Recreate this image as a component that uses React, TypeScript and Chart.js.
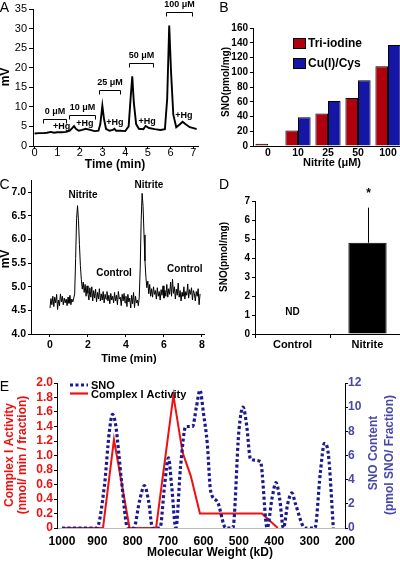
import React, { useEffect, useRef } from "react";
import { Chart, registerables } from "chart.js";
Chart.register(...registerables);

const FF = "'Liberation Sans', Arial, Helvetica, sans-serif";

// ---------- Panel A: chemiluminescence trace ----------
const aTime = [0, 0.2, 0.4, 0.55, 0.72, 0.85, 1.0, 1.2, 1.4, 1.55, 1.65, 1.74, 1.82, 1.95, 2.1, 2.26, 2.45, 2.65, 2.82, 2.9, 2.99, 3.06, 3.15, 3.3, 3.45, 3.52, 3.6, 3.8, 4.0, 4.15, 4.24, 4.31, 4.38, 4.48, 4.6, 4.8, 4.9, 5.05, 5.3, 5.55, 5.75, 5.85, 5.94, 6.02, 6.12, 6.25, 6.4, 6.53, 6.65, 6.85, 7.05, 7.15];
const aMv = [3.2, 3.3, 3.3, 3.4, 3.6, 3.4, 3.5, 3.5, 3.6, 3.9, 4.5, 5.1, 4.4, 3.9, 4.1, 4.4, 4.1, 3.8, 3.9, 5.6, 10.3, 7.0, 4.4, 3.9, 4.1, 4.4, 3.9, 3.9, 3.8, 5.0, 12.5, 17.8, 11.0, 5.6, 4.4, 4.3, 5.1, 4.6, 4.3, 4.1, 4.3, 12, 30.8, 19, 8, 4.8, 5.5, 6.2, 5.6, 4.8, 4.5, 4.3];
const aXTicks = [0, 1, 2, 3, 4, 5, 6, 7];
const aYTicks = [0, 5, 10, 15, 20, 25, 30, 35];
const aBracketLabels = ["0 μM", "10 μM", "25 μM", "50 μM", "100 μM"];
const aBracketStart = [0.35, 1.51, 2.82, 4.15, 5.78];
const aBracketEnd = [1.37, 2.66, 3.79, 5.21, 6.96];
const aBracketLevel = [6.8, 7.9, 14.3, 21.3, 34.2];
const aHgTime = [1.19, 2.22, 3.54, 4.97, 6.59];
const aHgMv = [5.0, 5.8, 6.0, 6.2, 7.7];

// ---------- Panel B: SNO vs nitrite ----------
const bCategories = ["0", "10", "25", "50", "100"];
const bTriIodine = [3, 21, 44, 65, 108];
const bCuCys = [0, 39, 61, 89, 137];
const bYTicks = [0, 20, 40, 60, 80, 100, 120, 140, 160];

// ---------- Panel C: trace ----------
const cStart = 0;
const cStep = 0.05;
const cMv = [
  4.55, 4.75, 4.62, 4.80, 4.58, 4.78, 4.66, 4.84, 4.52, 4.72, 4.60, 4.85, 4.68, 4.80, 4.62, 4.76, 4.66, 4.74, 4.60, 4.78,
  4.65, 4.82, 4.62, 4.74, 4.68, 4.76, 4.85, 5.60, 6.45, 6.72, 6.40, 5.90, 5.45, 5.15, 4.95, 5.10, 4.88, 5.05, 4.80, 5.02,
  4.86, 4.72, 4.98, 4.78, 5.00, 4.70, 4.92, 4.76, 4.95, 4.68, 4.88, 4.74, 4.96, 4.70, 4.85, 4.72, 4.90, 4.66, 4.84, 4.74,
  4.90, 4.70, 4.82, 4.64, 4.86, 4.72, 4.80, 4.66, 4.88, 4.70, 4.82, 4.62, 4.90, 4.74, 4.78, 4.60, 4.84, 4.70, 4.86, 4.66,
  4.80, 4.58, 4.84, 4.68, 4.76, 4.55, 4.82, 4.64, 4.88, 4.56, 4.80, 4.66, 4.72, 4.60, 4.78, 5.40, 6.40, 6.98, 6.70, 6.10,
  5.55, 5.20, 4.98, 5.12, 4.85, 5.05, 4.80, 4.96, 4.78, 5.00, 4.84, 4.92, 4.74, 4.98, 4.80, 4.90, 4.72, 4.94, 4.82, 5.02,
  4.76, 4.92, 4.80, 5.05, 4.78, 4.96, 4.84, 5.10, 4.80, 5.16, 4.86, 5.00, 4.74, 4.95, 4.82, 5.08, 4.78, 4.92, 4.70, 4.88,
  4.80, 5.00, 4.74, 4.90, 4.82, 5.06, 4.76, 4.94, 4.84, 4.98, 4.72, 4.92, 4.86, 4.70, 4.90, 4.80, 4.96, 4.62, 4.85,
];
const cXTicks = [0, 2, 4, 6, 8];
const cYTicks = [4.0, 4.5, 5.0, 5.5, 6.0, 6.5, 7.0];
const cLabels = ["Nitrite", "Nitrite", "Control", "Control"];
const cLabelT = [1.74, 5.21, 3.37, 7.1];
const cLabelMv = [6.94, 7.16, 5.29, 5.38];

// ---------- Panel D ----------
const dCategories = ["Control", "Nitrite"];
const dSno = [0, 4.8];
const dErr = [0, 1.85];
const dYTicks = [0, 1, 2, 3, 4, 5, 6, 7];

// ---------- Panel E ----------
const eSnoMw = [1000, 960, 902, 880, 866, 857, 848, 832, 814, 797, 781, 767, 755, 744, 723, 710, 699, 690, 678, 665, 650, 631, 620, 610, 600, 589, 580, 561, 537, 517, 500, 488, 478, 467, 439, 420, 406, 395, 385, 374, 362, 350, 340, 313, 285, 270, 258, 247, 233];
const eSno = [0, 0, 0, 3.5, 8.0, 9.4, 8.5, 4.0, 0, 0, 2.2, 3.5, 2.2, 0, 0, 3.5, 5.8, 3.5, 0, 5.0, 8.4, 8.4, 10.0, 11.4, 9.5, 6.9, 3.1, 2.2, 0, 0, 8.0, 10.0, 8.5, 5.7, 5.5, 0, 2.5, 3.75, 2.5, 0, 2.0, 2.9, 2.0, 0, 0, 4.5, 7.0, 6.1, 0];
const eActMw = [1000, 884, 853, 809, 734, 685, 659, 636, 610, 435, 390];
const eAct = [0, 0, 1.22, 0, 0, 1.83, 1.04, 0.72, 0.2, 0.2, 0];
const eXTicks = [1000, 900, 800, 700, 600, 500, 400, 300, 200];
const eLeftTicks = [0, 0.2, 0.4, 0.6, 0.8, 1.0, 1.2, 1.4, 1.6, 1.8, 2.0];
const eRightTicks = [0, 2, 4, 6, 8, 10, 12];

// ---------- helpers ----------
type Area = { l: number; t: number; r: number; b: number };

function fixedFit(size: number) {
  return (s: any) => {
    if (s.isHorizontal()) s.height = size;
    else s.width = size;
    s.paddingLeft = 0;
    s.paddingRight = 0;
    s.paddingTop = 0;
    s.paddingBottom = 0;
  };
}

function common(W: number, H: number, a: Area, hasRight: boolean) {
  return {
    responsive: false,
    animation: false as const,
    events: [] as any[],
    layout: { padding: { left: 0, top: a.t, right: hasRight ? 0 : W - a.r, bottom: 0 } },
    plugins: { legend: { display: false }, tooltip: { enabled: false } },
  };
}

function parseFont(f: string) {
  const bold = f.startsWith("bold");
  const size = parseFloat(f.replace("bold ", ""));
  return { family: FF, size, weight: bold ? ("bold" as const) : ("normal" as const), lineHeight: 1.2 };
}

const plain = (v: any) => String(v);

function axis(size: number, font: string, tl: number, pad: number, color = "#000", borderColor = "#000", callback?: (v: any) => string) {
  const ticks: any = { font: parseFont(font), color, padding: pad, autoSkip: false, maxRotation: 0 };
  if (callback) ticks.callback = callback;
  return {
    grid: { drawOnChartArea: false, drawTicks: tl > 0, tickLength: tl, color: "#000", lineWidth: 1 },
    border: { display: true, color: borderColor, width: 1 },
    ticks,
    afterFit: fixedFit(size),
  };
}

function setTicks(values: number[]) {
  return (s: any) => {
    s.ticks = values.map((v) => ({ value: v }));
  };
}

function text(ctx: CanvasRenderingContext2D, s: string, x: number, y: number, font: string, color = "#000", align: CanvasTextAlign = "center", rot = 0) {
  ctx.save();
  ctx.translate(x, y);
  if (rot) ctx.rotate(rot);
  ctx.font = `${font} ${FF}`;
  ctx.fillStyle = color;
  ctx.textAlign = align;
  ctx.textBaseline = "middle";
  ctx.fillText(s, 0, 0);
  ctx.restore();
}

function overlay(draw: (c: any) => void) {
  return { id: "overlay", afterDraw: (c: any) => draw(c) };
}

const ROT = -Math.PI / 2;

// ---------- chart builders ----------
function makeA(cv: HTMLCanvasElement) {
  const W = 200, H = 175;
  const a = { l: 33, t: 9, r: 198, b: 146 };
  return new Chart(cv, {
    type: "line",
    data: {
      datasets: [
        {
          data: aTime.map((t, i) => ({ x: t, y: aMv[i] })),
          borderColor: "#000",
          borderWidth: 1.9,
          pointRadius: 0,
          tension: 0,
        },
      ],
    },
    options: {
      ...common(W, H, a, false),
      scales: {
        x: { type: "linear", min: -0.07, max: 7.21, ...axis(H - a.b, "11px", 3, -3, "#000", "#000", plain), afterBuildTicks: setTicks(aXTicks) } as any,
        y: { type: "linear", min: 0, max: 35, ...axis(a.l, "11px", 4, 2, "#000", "#000", plain), afterBuildTicks: setTicks(aYTicks) } as any,
      },
    } as any,
    plugins: [
      overlay((c) => {
        const ctx = c.ctx as CanvasRenderingContext2D;
        const x = c.scales.x, y = c.scales.y;
        text(ctx, "A", 4.5, 8, "14px");
        text(ctx, "mV", 6, 77, "bold 12px", "#000", "center", ROT);
        text(ctx, "Time (min)", 115, 165, "bold 12px");
        ctx.save();
        ctx.strokeStyle = "#000";
        ctx.lineWidth = 1;
        aBracketLabels.forEach((lab, i) => {
          const x0 = Math.round(x.getPixelForValue(aBracketStart[i])) + 0.5;
          const x1 = Math.round(x.getPixelForValue(aBracketEnd[i])) + 0.5;
          const yy = Math.round(y.getPixelForValue(aBracketLevel[i])) + 0.5;
          ctx.beginPath();
          ctx.moveTo(x0, yy + 4);
          ctx.lineTo(x0, yy);
          ctx.lineTo(x1, yy);
          ctx.lineTo(x1, yy + 4);
          ctx.stroke();
          text(ctx, lab, (x0 + x1) / 2, yy - 8, "bold 9px");
        });
        ctx.restore();
        aHgTime.forEach((t, i) => {
          text(ctx, "+Hg", x.getPixelForValue(t), y.getPixelForValue(aHgMv[i]), "bold 9px");
        });
      }),
    ],
  });
}

const RED = "#b0000e";
const BLUE = "#1616a6";

function makeB(cv: HTMLCanvasElement) {
  const W = 210, H = 175;
  const a = { l: 53, t: 28, r: 203, b: 146 };
  return new Chart(cv, {
    type: "bar",
    data: {
      labels: bCategories,
      datasets: [
        { data: bTriIodine, backgroundColor: RED, borderColor: "#000", borderWidth: 1, categoryPercentage: 0.84, barPercentage: 1 },
        { data: bCuCys, backgroundColor: BLUE, borderColor: "#000", borderWidth: 1, categoryPercentage: 0.84, barPercentage: 1 },
      ],
    },
    options: {
      ...common(W, H, a, false),
      scales: {
        x: { ...axis(H - a.b, "bold 10.5px", 0, 1) } as any,
        y: { type: "linear", min: 0, max: 160, ...axis(a.l, "bold 10px", 3, 2, "#000", "#000", plain), afterBuildTicks: setTicks(bYTicks) } as any,
      },
    } as any,
    plugins: [
      overlay((c) => {
        const ctx = c.ctx as CanvasRenderingContext2D;
        text(ctx, "B", 24, 8, "14px");
        text(ctx, "SNO(pmol/mg)", 26, 82, "bold 10px", "#000", "center", ROT);
        text(ctx, "Nitrite (μM)", 132, 163, "bold 11px");
        ctx.save();
        ctx.lineWidth = 1;
        ctx.strokeStyle = "#000";
        ctx.fillStyle = RED;
        ctx.fillRect(93.5, 38.5, 12, 10);
        ctx.strokeRect(93.5, 38.5, 12, 10);
        ctx.fillStyle = BLUE;
        ctx.fillRect(93.5, 58.5, 12, 10);
        ctx.strokeRect(93.5, 58.5, 12, 10);
        ctx.restore();
        text(ctx, "Tri-iodine", 108, 44, "bold 12px", "#000", "left");
        text(ctx, "Cu(I)/Cys", 108, 64, "bold 12px", "#000", "left");
      }),
    ],
  });
}

function makeC(cv: HTMLCanvasElement) {
  const W = 210, H = 200;
  const a = { l: 31, t: 10.6, r: 204.8, b: 164 };
  return new Chart(cv, {
    type: "line",
    data: {
      datasets: [
        {
          data: cMv.map((v, i) => ({ x: cStart + i * cStep, y: v })),
          borderColor: "#000",
          borderWidth: 1,
          pointRadius: 0,
          tension: 0,
        },
      ],
    },
    options: {
      ...common(W, H, a, false),
      scales: {
        x: { type: "linear", min: -1, max: 8.15, ...axis(H - a.b, "bold 10.5px", 3, 2, "#000", "#000", plain), afterBuildTicks: setTicks(cXTicks) } as any,
        y: {
          type: "linear",
          min: 4,
          max: 7.25,
          ...axis(a.l, "bold 10.5px", 3, 2, "#000", "#000", (v: any) => Number(v).toFixed(1)),
          afterBuildTicks: setTicks(cYTicks),
        } as any,
      },
    } as any,
    plugins: [
      overlay((c) => {
        const ctx = c.ctx as CanvasRenderingContext2D;
        const x = c.scales.x, y = c.scales.y;
        text(ctx, "C", 4.5, 15, "14px");
        text(ctx, "mV", 6, 89, "bold 12px", "#000", "center", ROT);
        text(ctx, "Time (min)", 129, 189, "bold 11px");
        cLabels.forEach((lab, i) => {
          text(ctx, lab, x.getPixelForValue(cLabelT[i]), y.getPixelForValue(cLabelMv[i]), "bold 10px");
        });
      }),
    ],
  });
}

function makeD(cv: HTMLCanvasElement) {
  const W = 210, H = 200;
  const a = { l: 55, t: 31, r: 205, b: 164 };
  return new Chart(cv, {
    type: "bar",
    data: {
      labels: dCategories,
      datasets: [{ data: dSno, backgroundColor: "#000", borderColor: "#000", borderWidth: 1, categoryPercentage: 0.51, barPercentage: 1 }],
    },
    options: {
      ...common(W, H, a, false),
      scales: {
        x: { ...axis(H - a.b, "bold 11px", 4, 0) } as any,
        y: { type: "linear", min: 0, max: 7, ...axis(a.l, "bold 10px", 3, 2, "#000", "#000", plain), afterBuildTicks: setTicks(dYTicks) } as any,
      },
    } as any,
    plugins: [
      overlay((c) => {
        const ctx = c.ctx as CanvasRenderingContext2D;
        const x = c.scales.x, y = c.scales.y;
        text(ctx, "D", 24, 15, "14px");
        text(ctx, "SNO(pmol/mg)", 24, 87, "bold 10px", "#000", "center", ROT);
        text(ctx, "ND", x.getPixelForValue(0), y.getPixelForValue(1.15), "bold 10px");
        const bar = c.getDatasetMeta(0).data[1];
        const bx = Math.round(bar.x) + 0.5;
        const yTop = y.getPixelForValue(dSno[1] + dErr[1]);
        ctx.save();
        ctx.strokeStyle = "#000";
        ctx.lineWidth = 1;
        ctx.beginPath();
        ctx.moveTo(bx, y.getPixelForValue(dSno[1]));
        ctx.lineTo(bx, yTop);
        ctx.stroke();
        ctx.restore();
        text(ctx, "*", bx, yTop - 14, "bold 12px");
      }),
    ],
  });
}

const ERED = "#ee1111";
const ENAVY = "#1a1a8e";
const EAXISBLUE = "#4848a8";

function makeE(cv: HTMLCanvasElement) {
  const W = 400, H = 191;
  const a = { l: 57, t: 13, r: 345, b: 158 };
  return new Chart(cv, {
    type: "line",
    data: {
      datasets: [
        {
          data: eSnoMw.map((m, i) => ({ x: m, y: eSno[i] })),
          yAxisID: "y1",
          borderColor: ENAVY,
          borderWidth: 3.2,
          borderDash: [3, 2.5],
          pointRadius: 0,
          cubicInterpolationMode: "monotone",
        },
        {
          data: eActMw.map((m, i) => ({ x: m, y: eAct[i] })),
          yAxisID: "y",
          borderColor: ERED,
          borderWidth: 2,
          pointRadius: 0,
          tension: 0,
        },
      ],
    },
    options: {
      ...common(W, H, a, true),
      scales: {
        x: { type: "linear", reverse: true, min: 200, max: 1014, ...axis(H - a.b, "bold 12px", 0, 6, "#000", "#bbbbbb", plain), afterBuildTicks: setTicks(eXTicks) } as any,
        y: {
          type: "linear",
          position: "left",
          min: 0,
          max: 2,
          ...axis(a.l, "bold 12px", 3, 1, ERED, "#000", (v: any) => (Number(v) === 0 ? "0" : Number(v).toFixed(1))),
          afterBuildTicks: setTicks(eLeftTicks),
        } as any,
        y1: {
          type: "linear",
          position: "right",
          min: 0,
          max: 12,
          ...axis(W - a.r, "bold 12px", 3, 0, EAXISBLUE, "#000", plain),
          afterBuildTicks: setTicks(eRightTicks),
        } as any,
      },
    } as any,
    plugins: [
      overlay((c) => {
        const ctx = c.ctx as CanvasRenderingContext2D;
        text(ctx, "E", 4.5, 17, "14px");
        ctx.save();
        ctx.strokeStyle = ENAVY;
        ctx.lineWidth = 3.2;
        ctx.setLineDash([3, 2.5]);
        ctx.beginPath();
        ctx.moveTo(70, 15);
        ctx.lineTo(88, 15);
        ctx.stroke();
        ctx.setLineDash([]);
        ctx.strokeStyle = ERED;
        ctx.lineWidth = 2.2;
        ctx.beginPath();
        ctx.moveTo(70, 23.5);
        ctx.lineTo(88, 23.5);
        ctx.stroke();
        ctx.restore();
        text(ctx, "SNO", 91, 16, "bold 11px", "#000", "left");
        text(ctx, "Complex I Activity", 91, 25, "bold 11px", "#000", "left");
        text(ctx, "Complex I Activity", 10, 85, "bold 12px", ERED, "center", ROT);
        text(ctx, "(nmol/ min / fraction)", 23, 85, "bold 12px", ERED, "center", ROT);
        text(ctx, "SNO Content", 374, 83, "bold 12px", EAXISBLUE, "center", ROT);
        text(ctx, "(pmol SNO/ Fraction)", 390, 85, "bold 12px", EAXISBLUE, "center", ROT);
        text(ctx, "Molecular Weight (kD)", 210, 183, "bold 12px");
      }),
    ],
  });
}

function Panel(props: { left: number; top: number; width: number; height: number; make: (c: HTMLCanvasElement) => Chart }) {
  const ref = useRef<HTMLCanvasElement>(null);
  useEffect(() => {
    const chart = props.make(ref.current!);
    return () => chart.destroy();
  }, []);
  return (
    <canvas
      ref={ref}
      width={props.width}
      height={props.height}
      style={{ position: "absolute", left: props.left, top: props.top, width: props.width, height: props.height }}
    />
  );
}

export default function App() {
  useEffect(() => {
    document.body.style.margin = "0";
  }, []);
  return (
    <div style={{ position: "fixed", left: 0, top: 0, width: 400, height: 561, overflow: "hidden", background: "#fff" }}>
      <Panel left={0} top={0} width={200} height={175} make={makeA} />
      <Panel left={200} top={0} width={210} height={175} make={makeB} />
      <Panel left={0} top={170} width={210} height={200} make={makeC} />
      <Panel left={200} top={170} width={210} height={200} make={makeD} />
      <Panel left={0} top={370} width={400} height={191} make={makeE} />
    </div>
  );
}
